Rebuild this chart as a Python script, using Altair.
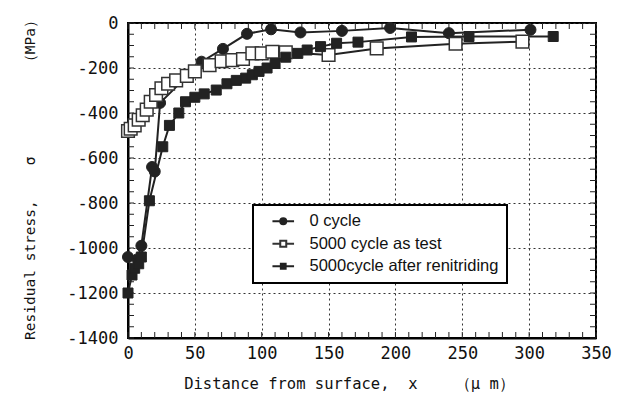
import altair as alt
import pandas as pd

series_names = ["0 cycle", "5000 cycle as test", "5000cycle after renitriding"]

c0_x = [0, 7, 10, 18, 20, 24, 55, 71, 89, 107, 129, 160, 196, 240, 301]
c0_y = [-1040, -1050, -990, -640, -660, -355, -172, -115, -48, -28, -42, -35, -22, -45, -30]

test_x = [0, 2, 5, 8, 11, 14, 17, 21, 25, 30, 36, 44, 50, 61, 70, 78, 86, 93, 100, 108, 118, 150, 186, 245, 295]
test_y = [-480, -470, -455, -430, -410, -385, -350, -320, -290, -270, -255, -235, -215, -187, -170, -165, -160, -135, -135, -128, -130, -142, -113, -92, -83]

ren_x = [0, 3, 5, 8, 10, 16, 26, 31, 38, 43, 50, 57, 66, 74, 81, 88, 93, 98, 104, 110, 118, 127, 134, 144, 156, 172, 212, 255, 318]
ren_y = [-1200, -1120, -1090, -1070, -1040, -790, -550, -455, -400, -350, -330, -315, -298, -270, -255, -245, -230, -215, -200, -180, -152, -135, -120, -105, -90, -85, -62, -60, -60]

x_ticks = list(range(0, 351, 10))
y_ticks = list(range(-1400, 1, 50))
x_major = [0, 50, 100, 150, 200, 250, 300, 350]
y_major = [0, -200, -400, -600, -800, -1000, -1200, -1400]

rows = []
for name, xs, ys in zip(series_names, [c0_x, test_x, ren_x], [c0_y, test_y, ren_y]):
    for i, (xv, yv) in enumerate(zip(xs, ys)):
        rows.append({"series": name, "x": xv, "y": yv, "order": i})
df = pd.DataFrame(rows)
xt_df = pd.DataFrame({"x": x_ticks})
yt_df = pd.DataFrame({"y": y_ticks})

W, H = 468, 315
xscale = alt.Scale(domain=[0, 350], nice=False, zero=False)
yscale = alt.Scale(domain=[-1400, 0], nice=False, zero=False)

NB = "\u00a0"
x_title = "Distance from surface," + NB * 2 + "x" + NB * 4 + "\uff08\u03bc" + NB + "m\uff09"
y_title = "Residual stress," + NB * 4 + "\u03c3" + NB * 10 + "\uff08MPa\uff09"

grid_kw = dict(grid=True, gridDash=[2, 3], gridColor="#333", gridWidth=1, gridOpacity=1,
               ticks=False, labelFlush=False, domainColor="black", domainWidth=2)

x_enc = alt.X("x:Q", scale=xscale,
              axis=alt.Axis(values=x_major, title=x_title, labelPadding=7, titlePadding=15,
                            titleFontSize=15.5, titleX=221, **grid_kw))
y_enc = alt.Y("y:Q", scale=yscale,
              axis=alt.Axis(values=y_major, title=y_title, labelPadding=10, titlePadding=29,
                            titleFontSize=14.5, titleY=153, labelExpr="'' + datum.value", **grid_kw))

lines = alt.Chart(df).mark_line(color="#222", strokeWidth=2).encode(
    x=x_enc, y=y_enc, detail="series:N", order="order:Q")

def pts(name, **kw):
    return alt.Chart(df).transform_filter(alt.datum.series == name).mark_point(
        opacity=1, **kw).encode(x=x_enc, y=y_enc)

p0 = pts(series_names[0], shape="circle", filled=True, fill="#222", stroke="#222", strokeWidth=1, size=121)
p1 = pts(series_names[1], shape="square", filled=True, fill="white", stroke="#333", strokeWidth=1.5, size=160)
p2 = pts(series_names[2], shape="square", filled=True, fill="#222", stroke="#222", strokeWidth=1, size=100)

sym_paths = [
    "M-1.8,0H1.8M0.5,0A0.5,0.5 0 1,1 -0.5,0A0.5,0.5 0 1,1 0.5,0Z",
    "M-1.8,0H-0.5M0.5,0H1.8M-0.5,-0.5H0.5V0.5H-0.5Z",
    "M-1.8,0H1.8M-0.4,-0.4H0.4V0.4H-0.4Z",
]
leg = dict(orient="none", legendX=125, legendY=182, title=None,
           labelFont="Liberation Sans", labelFontSize=16.5, labelColor="#111", labelLimit=400,
           symbolSize=144, symbolStrokeWidth=2,
           symbolOffset=14, labelOffset=18, rowPadding=5.5, padding=8,
           strokeColor="black", fillColor="white", symbolOpacity=1)
legend_layer = alt.Chart(df).mark_point(filled=True, opacity=0).encode(
    x=x_enc, y=y_enc,
    shape=alt.Shape("series:N", scale=alt.Scale(domain=series_names, range=sym_paths),
                    legend=alt.Legend(**leg)),
    fill=alt.Fill("series:N", scale=alt.Scale(domain=series_names, range=["#222", "white", "#222"]),
                  legend=alt.Legend(**leg)),
    stroke=alt.Stroke("series:N", scale=alt.Scale(domain=series_names, range=["#222", "#333", "#222"]),
                      legend=alt.Legend(**leg)),
)

tb = alt.Chart(xt_df).mark_rule(color="#222", strokeWidth=1).encode(
    x=x_enc, y=alt.value(H), y2=alt.value(H - 6))
tt = alt.Chart(xt_df).mark_rule(color="#222", strokeWidth=1).encode(
    x=x_enc, y=alt.value(0), y2=alt.value(6))
tl = alt.Chart(yt_df).mark_rule(color="#222", strokeWidth=1).encode(
    y=y_enc, x=alt.value(0), x2=alt.value(6))
tr = alt.Chart(yt_df).mark_rule(color="#222", strokeWidth=1).encode(
    y=y_enc, x=alt.value(W), x2=alt.value(W - 6))

chart = alt.layer(tb, tt, tl, tr, lines, p0, p1, p2, legend_layer).properties(
    width=W, height=H,
    padding={"left": 120, "top": 15, "right": 22, "bottom": 55},
    autosize=alt.AutoSizeParams(type="none"),
    background="white",
).configure_view(
    stroke="black", strokeWidth=2
).configure_axis(
    labelFont="DejaVu Sans Mono", labelFontSize=17, labelColor="#111",
    titleFont="DejaVu Sans Mono", titleFontWeight="normal", titleColor="#111",
).configure_legend(strokeWidth=2, cornerRadius=0)

chart.save("out.html", embed_options={"renderer": "svg", "actions": False})
